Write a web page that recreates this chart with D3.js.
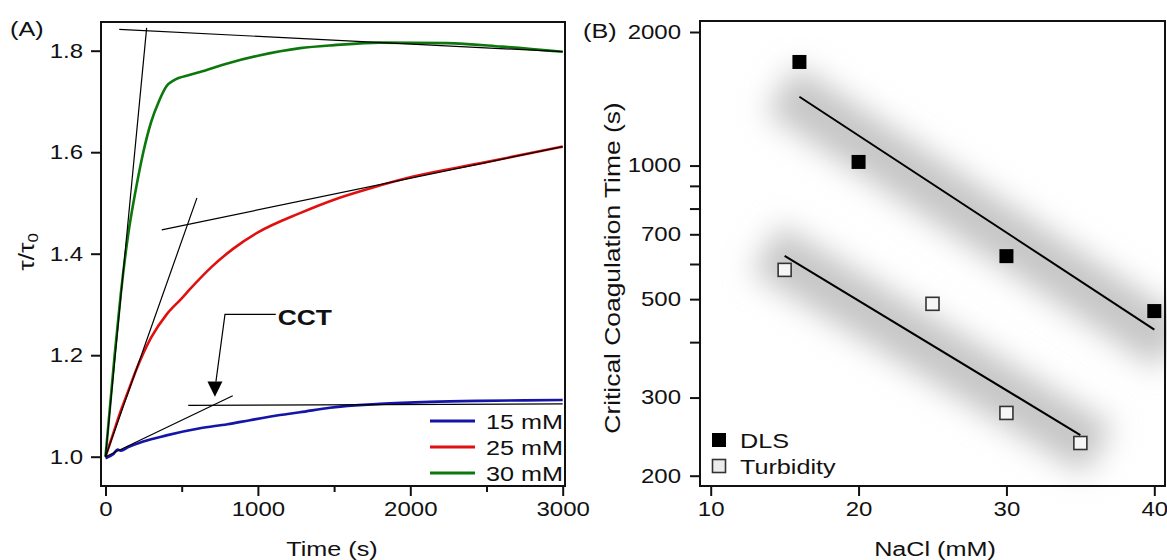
<!DOCTYPE html>
<html><head><meta charset="utf-8">
<script src="https://cdn.jsdelivr.net/npm/d3@7"></script>
<style>
html,body{margin:0;padding:0;background:#fff;}
svg text{font-family:"Liberation Sans",Arial,sans-serif;fill:#111;}
</style></head>
<body><svg id="c" width="1167" height="560"></svg>
<script>
// ---------- Panel A data ----------
const t15 = [0,50,80,100,150,248,400,620,800,948,1145,1276,1473,1801,2129,2457,2750,3000];
const v15 = [0.997,1.005,1.014,1.012,1.019,1.030,1.042,1.056,1.064,1.072,1.082,1.0875,1.0966,1.104,1.108,1.110,1.111,1.1117];
const t25 = [0,50,100,150,200,250,300,400,500,554,700,839,1000,1276,1495,1750,2020,2457,3000];
const v25 = [1.0,1.045,1.09,1.13,1.17,1.205,1.235,1.28,1.312,1.33,1.375,1.41,1.442,1.48,1.506,1.53,1.552,1.578,1.611];
const t30 = [0,30,60,100,150,195,248,300,350,400,450,550,620,800,1000,1277,1500,1800,2240,2600,3000];
const v30 = [1.0,1.1,1.2,1.32,1.44,1.52,1.6,1.66,1.70,1.73,1.742,1.752,1.758,1.775,1.79,1.805,1.811,1.816,1.815,1.808,1.798];
const seriesNames = ["15 mM","25 mM","30 mM"];
const seriesColors = ["#1414a8","#e01010","#0c780c"];
// tangent lines [t0,v0,t1,v1]
const steepTangents = [[0,1.0,835,1.12],[0,1.0,600,1.51],[0,1.0,270,1.845]];
const plateauTangents = [[543,1.101,3000,1.104],[369,1.447,3000,1.611],[90,1.842,3000,1.798]];
const cctTimes = [718,554,285];
const cctTops = [1.11,1.50,1.841];
const cctArrow = {tipT:718, tipV:1.118, headV:1.148, elbowT:784, elbowV:1.2806, endT:1117};
const xTicksA = [0,1000,2000,3000];
const xMinorA = [500,1500,2500];
const yTicksA = [1.0,1.2,1.4,1.6,1.8];

// ---------- Panel B data ----------
const nacl = [10,20,30,40];
const dlsX = [16,20,30,40];
const dlsY = [1712,1019,625,470];
const turbX = [15,25,30,35];
const turbY = [582,488,277,237];
const dlsFit = [[16,1429],[40,427]];
const turbFit = [[15,626],[35,247]];
const yTicksB = [200,300,500,700,1000,2000];
const yMinorB = [400,600,800,900];
const legendB = ["DLS","Turbidity"];

const SX = 1.2; // horizontal text stretch
const svg = d3.select("#c");
const defs = svg.append("defs");
defs.append("filter").attr("id","blur").attr("x","-50%").attr("y","-50%").attr("width","200%").attr("height","200%")
  .append("feGaussianBlur").attr("stdDeviation",15);
defs.append("filter").attr("id","blur2").attr("x","-50%").attr("y","-10%").attr("width","200%").attr("height","120%")
  .append("feGaussianBlur").attr("stdDeviation",0.7);

function stext(g, x, y, txt, opts={}) {
  const t = g.append("text")
    .attr("transform", `translate(${x},${y}) rotate(${opts.rot||0}) scale(${SX},1)`)
    .attr("text-anchor", opts.anchor||"start")
    .style("font-size", (opts.size||20)+"px")
    .style("font-weight", opts.weight||"normal");
  if (txt!=null) t.text(txt);
  return t;
}
function stretchAxisText(g, fs){
  g.selectAll(".tick text").each(function(){
    const s = d3.select(this);
    const x = +s.attr("x")||0;
    s.attr("x", x/SX).attr("transform", `scale(${SX},1)`).style("font-size", fs+"px");
  });
}

// ================= Panel A =================
const A = {l:101,t:22,r:565,b:486};
const xA = d3.scaleLinear().domain([0,3000]).range([105.5,562.7]);
const yA = d3.scaleLinear().domain([1.0,1.8]).range([456.7,50.7]);
const gA = svg.append("g");

// CCT grey guide lines
gA.selectAll("line.cct").data(cctTimes).join("line")
  .attr("x1",d=>xA(d)).attr("x2",d=>xA(d))
  .attr("y1",(d,i)=>yA(cctTops[i])).attr("y2",yA(0.955))
  .attr("stroke","#bdbdbd").attr("stroke-width",4).attr("filter","url(#blur2)");

const lineA = d3.line().x(d=>xA(d[0])).y(d=>yA(d[1])).curve(d3.curveMonotoneX);
const dataA = [t15.map((t,i)=>[t,v15[i]]), t25.map((t,i)=>[t,v25[i]]), t30.map((t,i)=>[t,v30[i]])];
dataA.forEach((d,i)=>{
  gA.append("path").datum(d).attr("d",lineA).attr("fill","none")
    .attr("stroke",seriesColors[i]).attr("stroke-width",2.6);
});
// tangent lines
[...steepTangents, ...plateauTangents].forEach(s=>{
  gA.append("line").attr("x1",xA(s[0])).attr("y1",yA(s[1])).attr("x2",xA(s[2])).attr("y2",yA(s[3]))
    .attr("stroke","#000").attr("stroke-width",1.2);
});
// CCT arrow annotation
gA.append("polyline").attr("points",[
  [xA(cctArrow.endT),yA(cctArrow.elbowV)],
  [xA(cctArrow.elbowT),yA(cctArrow.elbowV)],
  [xA(cctArrow.tipT)+1,yA(cctArrow.headV)]].map(p=>p.join(",")).join(" "))
  .attr("fill","none").attr("stroke","#000").attr("stroke-width",1.2);
gA.append("path").attr("d",`M${xA(cctArrow.tipT)-7.5},${yA(cctArrow.headV)} L${xA(cctArrow.tipT)+7.5},${yA(cctArrow.headV)} L${xA(cctArrow.tipT)},${yA(cctArrow.tipV)}Z`)
  .attr("fill","#000");
stext(gA, xA(cctArrow.endT)+2, yA(cctArrow.elbowV)+11, "CCT", {size:22, weight:"bold"});

// frame
gA.append("rect").attr("x",A.l).attr("y",A.t).attr("width",A.r-A.l).attr("height",A.b-A.t)
  .attr("fill","none").attr("stroke","#111").attr("stroke-width",2);

// axes
const axLA = gA.append("g").attr("transform",`translate(${A.l},0)`)
  .call(d3.axisLeft(yA).tickValues(yTicksA).tickFormat(d3.format(".1f")).tickSize(10).tickPadding(8));
const axBA = gA.append("g").attr("transform",`translate(0,${A.b})`)
  .call(d3.axisBottom(xA).tickValues(xTicksA).tickFormat(d3.format("d")).tickSize(10).tickPadding(6));
gA.append("g").attr("transform",`translate(0,${A.b})`)
  .call(d3.axisBottom(xA).tickValues(xMinorA).tickFormat("").tickSize(6)).select(".domain").remove();
[axLA,axBA].forEach(a=>{a.select(".domain").remove(); stretchAxisText(a,20);});
gA.selectAll(".tick line").attr("stroke","#111").attr("stroke-width",2);

// legend A
const legA = [0,1,2];
legA.forEach(i=>{
  const y = 421 + i*26;
  gA.append("line").attr("x1",430).attr("x2",475).attr("y1",y).attr("y2",y)
    .attr("stroke",seriesColors[i]).attr("stroke-width",3);
  stext(gA, 486, y+7.5, seriesNames[i], {size:21});
});

// labels A
stext(gA, 10, 36, "(A)", {size:21});
stext(gA, 332, 556, "Time (s)", {size:21, anchor:"middle"});
const yl = stext(gA, 34, 252, null, {size:22, anchor:"middle", rot:-90});
yl.append("tspan").text("τ/τ");
yl.append("tspan").text("0").style("font-size","14px").attr("dy",4);

// ================= Panel B =================
const B = {l:700,t:21,r:1165,b:486};
const xB = d3.scaleLinear().domain([10,40]).range([710.7,1154.3]);
const yB = d3.scaleLog().domain([200,2000]).range([475.7,32]);
const gB = svg.append("g");

// shadows
[dlsFit, turbFit].forEach(f=>{
  const x1=xB(f[0][0]), y1=yB(f[0][1]), x2=xB(f[1][0]), y2=yB(f[1][1]);
  const dx=x2-x1, dy=y2-y1, L=Math.hypot(dx,dy), ux=dx/L, uy=dy/L, ext=22;
  gB.append("line").attr("x1",x1-ux*ext).attr("y1",y1-uy*ext+4).attr("x2",x2+ux*ext).attr("y2",y2+uy*ext+4)
    .attr("stroke","#c6c6c6").attr("stroke-width",56).attr("filter","url(#blur)");
});
[dlsFit, turbFit].forEach(f=>{
  gB.append("line").attr("x1",xB(f[0][0])).attr("y1",yB(f[0][1])).attr("x2",xB(f[1][0])).attr("y2",yB(f[1][1]))
    .attr("stroke","#000").attr("stroke-width",2);
});
const SQ = 14;
gB.selectAll("rect.dls").data(dlsX).join("rect")
  .attr("x",d=>xB(d)-SQ/2).attr("y",(d,i)=>yB(dlsY[i])-SQ/2).attr("width",SQ).attr("height",SQ).attr("fill","#000");
gB.selectAll("rect.turb").data(turbX).join("rect")
  .attr("x",d=>xB(d)-6.5).attr("y",(d,i)=>yB(turbY[i])-6.5).attr("width",13).attr("height",13)
  .attr("fill","#f6f6f6").attr("stroke","#333").attr("stroke-width",1.6);

gB.append("rect").attr("x",B.l).attr("y",B.t).attr("width",B.r-B.l).attr("height",B.b-B.t)
  .attr("fill","none").attr("stroke","#111").attr("stroke-width",2);

const axLB = gB.append("g").attr("transform",`translate(${B.l},0)`)
  .call(d3.axisLeft(yB).tickValues(yTicksB).tickFormat(d3.format("d")).tickSize(10).tickPadding(9));
gB.append("g").attr("transform",`translate(${B.l},0)`)
  .call(d3.axisLeft(yB).tickValues(yMinorB).tickFormat("").tickSize(10)).select(".domain").remove();
const axBB = gB.append("g").attr("transform",`translate(0,${B.b})`)
  .call(d3.axisBottom(xB).tickValues(nacl).tickFormat(d3.format("d")).tickSize(10).tickPadding(6));
[axLB,axBB].forEach(a=>{a.select(".domain").remove(); stretchAxisText(a,20);});
gB.selectAll(".tick line").attr("stroke","#111").attr("stroke-width",2);

// legend B
gB.append("rect").attr("x",719-7).attr("y",440-7).attr("width",14).attr("height",14).attr("fill","#000");
gB.append("rect").attr("x",719-6.5).attr("y",466-6.5).attr("width",13).attr("height",13)
  .attr("fill","#ececec").attr("stroke","#333").attr("stroke-width",1.6);
stext(gB, 740, 448, legendB[0], {size:21});
stext(gB, 740, 474, legendB[1], {size:21});

stext(gB, 583, 38, "(B)", {size:21});
stext(gB, 935, 556, "NaCl (mM)", {size:21, anchor:"middle"});
stext(gB, 620, 268, "Critical Coagulation Time (s)", {size:22, anchor:"middle", rot:-90});
</script></body></html>
